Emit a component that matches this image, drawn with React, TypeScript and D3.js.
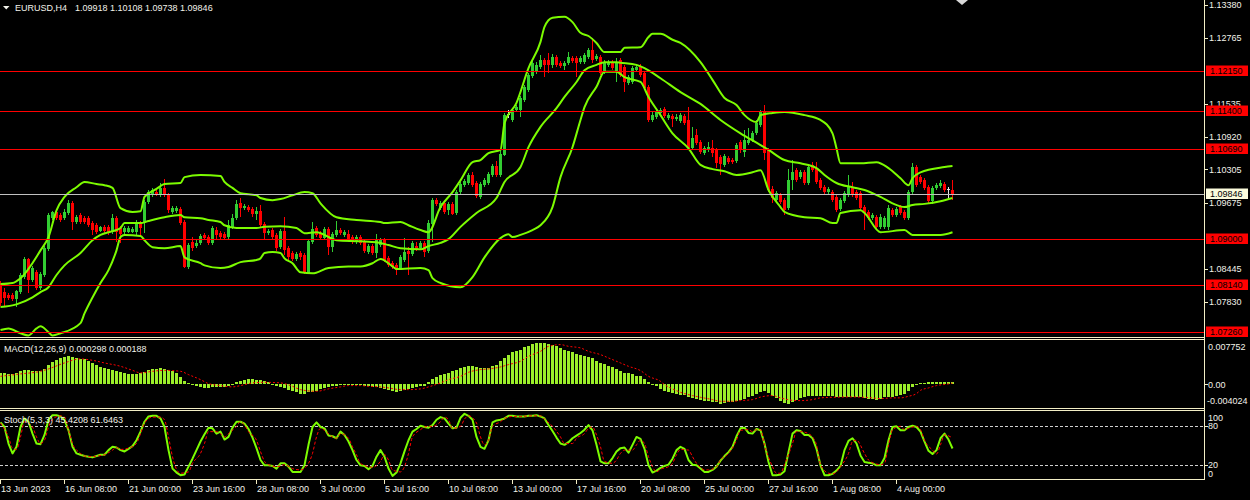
import React from "react";
import * as d3 from "d3";

// ---------- DATA ----------
const symbolTitle = "EURUSD,H4";
const lastQuote = [1.09918, 1.10108, 1.09738, 1.09846];

const opens = [
  1.0818,1.0801,1.0795,1.0795,1.0788,1.0801,1.0829,1.0863,1.0823,1.0838,
  1.0808,1.0833,1.0881,1.0939,1.0951,1.0945,1.0939,1.0949,1.0967,1.0932,
  1.0945,1.0939,1.0939,1.0930,1.0926,1.0915,1.0922,1.0922,1.0913,1.0939,
  1.0921,1.0913,1.0913,1.0913,1.0913,1.0930,1.0930,1.0969,1.0982,1.0988,
  1.0982,1.0996,1.0982,1.0951,1.0952,1.0956,1.0932,1.0848,1.0894,1.0887,
  1.0893,1.0907,1.0904,1.0893,1.0917,1.0911,1.0909,1.0904,1.0922,1.0939,
  1.0967,1.0958,1.0960,1.0956,1.0947,1.0952,1.0928,1.0911,1.0917,1.0907,
  1.0885,1.0915,1.0883,1.0874,1.0863,1.0874,1.0870,1.0836,1.0894,1.0921,
  1.0911,1.0902,1.0919,1.0885,1.0907,1.0917,1.0907,1.0909,1.0904,1.0894,
  1.0904,1.0894,1.0876,1.0887,1.0874,1.0889,1.0898,1.0864,1.0855,1.0851,
  1.0846,1.0861,1.0878,1.0872,1.0887,1.0883,1.0893,1.0878,1.0928,1.0973,
  1.0958,1.0967,1.0954,1.0966,1.0949,1.0988,1.1001,1.1005,1.1020,1.1005,
  1.0979,1.1001,1.1005,1.1020,1.1037,1.1020,1.1057,1.1134,1.1123,1.1141,
  1.1141,1.1160,1.1179,1.1205,1.1213,1.1222,1.1235,1.1235,1.1226,1.1241,
  1.1229,1.1224,1.1229,1.1239,1.1239,1.1231,1.1231,1.1241,1.1254,1.1237,
  1.1241,1.1213,1.1226,1.1231,1.1213,1.1235,1.1222,1.1192,1.1194,1.1216,
  1.1222,1.1211,1.1185,1.1123,1.1128,1.1136,1.1143,1.1127,1.1130,1.1125,
  1.1121,1.1130,1.1123,1.1070,1.1095,1.1082,1.1061,1.1067,1.1070,1.1067,
  1.1054,1.1039,1.1052,1.1048,1.1046,1.1082,1.1063,1.1080,1.1085,1.1098,
  1.1113,1.1140,1.1067,1.0994,1.0973,1.0982,1.0973,1.0958,1.1010,1.1029,
  1.1016,1.1025,1.1005,1.1039,1.1033,1.1010,1.0997,1.0988,1.0988,1.0979,
  1.0956,1.0971,1.0982,1.0997,1.0988,1.0986,1.0960,1.0951,1.0939,1.0941,
  1.0922,1.0922,1.0922,1.0954,1.0945,1.0960,1.0951,1.0939,1.0988,1.1035,
  1.1016,1.1010,1.0997,1.0971,1.0996,1.0999,1.1003,1.0994,1.09918,
];

const highs = [
  1.0821,1.0808,1.0799,1.0799,1.0805,1.0836,1.0866,1.0864,1.0850,1.0842,
  1.0838,1.0887,1.0949,1.0952,1.0954,1.0949,1.0956,1.0973,1.0971,1.0945,
  1.0949,1.0943,1.0943,1.0934,1.0930,1.0924,1.0926,1.0926,1.0947,1.0943,
  1.0924,1.0924,1.0924,1.0922,1.0936,1.0934,1.0973,1.0992,1.0996,1.0992,
  1.1005,1.1012,1.0986,1.0962,1.0962,1.0960,1.0936,1.0893,1.0904,1.0898,
  1.0909,1.0911,1.0907,1.0924,1.0922,1.0915,1.0913,1.0936,1.0947,1.0973,
  1.0977,1.0966,1.0964,1.0960,1.0960,1.0964,1.0932,1.0919,1.0921,1.0911,
  1.0919,1.0941,1.0887,1.0878,1.0876,1.0878,1.0874,1.0900,1.0932,1.0924,
  1.0915,1.0922,1.0922,1.0913,1.0934,1.0921,1.0917,1.0917,1.0907,1.0907,
  1.0907,1.0898,1.0891,1.0891,1.0909,1.0902,1.0902,1.0868,1.0859,1.0855,
  1.0870,1.0902,1.0885,1.0896,1.0894,1.0896,1.0896,1.0936,1.0977,1.0977,
  1.0971,1.0971,1.0969,1.0969,1.0992,1.1007,1.1012,1.1024,1.1025,1.1009,
  1.1007,1.1014,1.1025,1.1040,1.1046,1.1065,1.1136,1.1141,1.1145,1.1151,
  1.1168,1.1188,1.1211,1.1233,1.1231,1.1244,1.1239,1.1248,1.1246,1.1244,
  1.1233,1.1233,1.1250,1.1243,1.1243,1.1243,1.1248,1.1258,1.1276,1.1246,
  1.1244,1.1235,1.1235,1.1235,1.1239,1.1239,1.1226,1.1207,1.1224,1.1228,
  1.1228,1.1215,1.1188,1.1140,1.1143,1.1145,1.1147,1.1136,1.1134,1.1134,
  1.1136,1.1134,1.1147,1.1110,1.1106,1.1085,1.1074,1.1082,1.1085,1.1070,
  1.1057,1.1059,1.1055,1.1052,1.1080,1.1085,1.1104,1.1108,1.1102,1.1123,
  1.1141,1.1151,1.1070,1.1000,1.0990,1.0986,1.0977,1.1031,1.1048,1.1033,
  1.1029,1.1029,1.1039,1.1044,1.1044,1.1014,1.1001,1.0997,1.0992,1.0982,
  1.0977,1.0990,1.1020,1.1007,1.0992,1.0990,1.0964,1.0954,1.0949,1.0945,
  1.0947,1.0943,1.0964,1.0958,1.0960,1.0964,1.0954,1.0992,1.1042,1.1039,
  1.1020,1.1014,1.1001,1.0999,1.1005,1.1010,1.1007,1.0997,1.10108,
];

const lows = [
  1.0775,1.0773,1.0786,1.0784,1.0773,1.0797,1.0825,1.0799,1.0820,1.0805,
  1.0805,1.0829,1.0877,1.0936,1.0936,1.0932,1.0936,1.0945,1.0917,1.0928,
  1.0928,1.0928,1.0922,1.0907,1.0909,1.0913,1.0911,1.0907,1.0909,1.0894,
  1.0893,1.0909,1.0911,1.0911,1.0907,1.0907,1.0911,1.0966,1.0979,1.0981,
  1.0979,1.0979,1.0949,1.0947,1.0949,1.0926,1.0846,1.0844,1.0878,1.0883,
  1.0889,1.0898,1.0889,1.0889,1.0898,1.0900,1.0898,1.0900,1.0919,1.0936,
  1.0941,1.0954,1.0951,1.0941,1.0936,1.0922,1.0898,1.0907,1.0898,1.0878,
  1.0881,1.0870,1.0861,1.0859,1.0859,1.0861,1.0835,1.0835,1.0891,1.0904,
  1.0898,1.0898,1.0870,1.0876,1.0904,1.0907,1.0904,1.0894,1.0891,1.0891,
  1.0889,1.0874,1.0872,1.0870,1.0864,1.0885,1.0857,1.0848,1.0844,1.0833,
  1.0842,1.0857,1.0833,1.0868,1.0878,1.0879,1.0866,1.0874,1.0894,1.0962,
  1.0954,1.0947,1.0945,1.0945,1.0945,1.0984,1.0997,1.1001,1.0997,1.0977,
  1.0975,1.0997,1.1001,1.1016,1.1016,1.1016,1.1055,1.1127,1.1119,1.1138,
  1.1128,1.1156,1.1175,1.1201,1.1209,1.1218,1.1203,1.1211,1.1220,1.1222,
  1.1220,1.1216,1.1226,1.1229,1.1203,1.1228,1.1228,1.1237,1.1229,1.1233,
  1.1207,1.1209,1.1222,1.1216,1.1194,1.1203,1.1175,1.1188,1.1190,1.1213,
  1.1203,1.1179,1.1119,1.1119,1.1125,1.1132,1.1127,1.1123,1.1110,1.1121,
  1.1117,1.1113,1.1067,1.1067,1.1076,1.1059,1.1057,1.1063,1.1054,1.1033,
  1.1020,1.1035,1.1040,1.1040,1.1042,1.1061,1.1054,1.1076,1.1082,1.1094,
  1.1110,1.1048,1.0988,1.0967,1.0969,1.0966,1.0945,1.0954,1.0992,1.1007,
  1.1012,1.1001,1.1001,1.1025,1.1003,1.0992,1.0984,1.0984,1.0969,1.0951,
  1.0952,1.0967,1.0979,1.0979,1.0973,1.0954,1.0917,1.0936,1.0936,1.0919,
  1.0919,1.0919,1.0917,1.0941,1.0941,1.0945,1.0936,1.0936,1.0984,1.0997,
  1.1003,1.0992,1.0967,1.0966,1.0992,1.0996,1.0988,1.0975,1.09738,
];

const closes = [
  1.0780,1.0790,1.0790,1.0788,1.0803,1.0833,1.0863,1.0823,1.0846,1.0808,
  1.0835,1.0883,1.0945,1.0951,1.0939,1.0936,1.0951,1.0967,1.0932,1.0941,
  1.0932,1.0932,1.0926,1.0917,1.0913,1.0922,1.0915,1.0911,1.0939,1.0913,
  1.0909,1.0921,1.0921,1.0919,1.0932,1.0921,1.0969,1.0988,1.0992,1.0984,
  1.0996,1.0982,1.0954,1.0958,1.0958,1.0930,1.0848,1.0889,1.0883,1.0893,
  1.0906,1.0902,1.0893,1.0921,1.0907,1.0904,1.0902,1.0926,1.0939,1.0966,
  1.0958,1.0962,1.0954,1.0947,1.0952,1.0926,1.0911,1.0915,1.0904,1.0883,
  1.0915,1.0879,1.0866,1.0863,1.0872,1.0866,1.0836,1.0896,1.0919,1.0907,
  1.0902,1.0919,1.0885,1.0909,1.0917,1.0911,1.0913,1.0900,1.0894,1.0904,
  1.0893,1.0878,1.0887,1.0874,1.0898,1.0898,1.0859,1.0851,1.0848,1.0842,
  1.0866,1.0876,1.0872,1.0893,1.0881,1.0893,1.0876,1.0930,1.0973,1.0966,
  1.0967,1.0951,1.0966,1.0947,1.0988,1.1003,1.1009,1.1020,1.1001,1.0981,
  1.1003,1.1010,1.1022,1.1037,1.1020,1.1059,1.1132,1.1134,1.1141,1.1147,
  1.1164,1.1185,1.1207,1.1229,1.1226,1.1235,1.1226,1.1226,1.1241,1.1226,
  1.1224,1.1229,1.1241,1.1233,1.1229,1.1239,1.1244,1.1254,1.1235,1.1243,
  1.1211,1.1231,1.1231,1.1220,1.1231,1.1207,1.1194,1.1203,1.1220,1.1222,
  1.1207,1.1183,1.1123,1.1132,1.1138,1.1141,1.1130,1.1132,1.1125,1.1128,
  1.1132,1.1117,1.1070,1.1089,1.1080,1.1063,1.1070,1.1072,1.1061,1.1042,
  1.1040,1.1055,1.1044,1.1044,1.1076,1.1067,1.1085,1.1085,1.1098,1.1117,
  1.1138,1.1061,1.0992,1.0977,1.0986,1.0969,1.0954,1.1010,1.1025,1.1010,
  1.1025,1.1005,1.1035,1.1029,1.1007,1.0996,1.0988,1.0994,1.0973,1.0954,
  1.0973,1.0986,1.0997,1.0982,1.0977,1.0958,1.0949,1.0939,1.0945,1.0922,
  1.0941,1.0939,1.0958,1.0945,1.0956,1.0949,1.0939,1.0988,1.1035,1.1001,
  1.1007,1.0996,1.0971,1.0996,1.1001,1.1005,1.0992,1.0994,1.09846,
];

// Bollinger Bands (20,2): [bar index, price]
const bbUpper: [number, number][] = [
  [0,1.0816],[3,1.0818],[5,1.0827],[10,1.0879],[12,1.0904],[14,1.0954],[16,1.0979],[19,1.0997],[21,1.1007],[24,1.1003],
  [26,1.1001],[28,1.0996],[30,1.0958],[33,1.0951],[35,1.0952],[36,1.0979],[39,1.0994],[41,1.1003],[45,1.1005],[46,1.1016],
  [50,1.1020],[55,1.1018],[56,1.1007],[58,1.0996],[60,1.0986],[64,1.0982],[65,1.0977],[68,1.0973],[70,1.0975],[73,1.0982],
  [76,1.0988],[78,1.0986],[80,1.0967],[84,1.0941],[89,1.0936],[95,1.0932],[96,1.0930],[100,1.0932],[102,1.0926],[105,1.0917],
  [107,1.0913],[110,1.0960],[113,1.0988],[115,1.1010],[118,1.1044],[120,1.1048],[122,1.1061],[125,1.1067],[126,1.1117],[129,1.1155],
  [132,1.1220],[135,1.1269],[136,1.1297],[138,1.1314],[141,1.1316],[143,1.1306],[145,1.1286],[147,1.1280],[149,1.1267],[151,1.1250],
  [155,1.1250],[156,1.1258],[160,1.1259],[162,1.1278],[163,1.1284],[165,1.1284],[168,1.1273],[170,1.1267],[175,1.1231],[178,1.1198],
  [181,1.1164],[184,1.1151],[186,1.1132],[189,1.1119],[190,1.1132],[193,1.1136],[196,1.1138],[201,1.1132],[205,1.1123],[208,1.1098],
  [209,1.1070],[210,1.1042],[215,1.1042],[219,1.1044],[222,1.1033],[225,1.1014],[227,1.1001],[228,1.1014],[230,1.1025],[236,1.1035],
  [238,1.1037],
];
const bbMiddle: [number, number][] = [
  [0,1.0773],[4,1.0778],[8,1.0791],[10,1.0801],[12,1.0810],[14,1.0833],[16,1.0851],[20,1.0874],[23,1.0898],[25,1.0908],
  [28,1.0915],[30,1.0921],[31,1.0930],[35,1.0930],[37,1.0934],[41,1.0941],[45,1.0945],[46,1.0941],[50,1.0939],[52,1.0936],
  [55,1.0932],[56,1.0926],[59,1.0921],[64,1.0921],[66,1.0923],[70,1.0924],[74,1.0921],[76,1.0911],[79,1.0913],[84,1.0898],
  [90,1.0896],[94,1.0894],[97,1.0889],[100,1.0883],[105,1.0881],[107,1.0887],[110,1.0893],[112,1.0900],[115,1.0923],[119,1.0949],
  [124,1.0977],[126,1.1007],[130,1.1035],[132,1.1072],[135,1.1110],[139,1.1145],[141,1.1166],[144,1.1194],[146,1.1216],[149,1.1226],
  [151,1.1231],[154,1.1231],[155,1.1230],[159,1.1226],[161,1.1220],[165,1.1201],[170,1.1175],[175,1.1153],[180,1.1123],[185,1.1098],
  [190,1.1076],[192,1.1067],[196,1.1048],[200,1.1042],[204,1.1033],[206,1.1020],[209,1.1005],[213,1.0997],[216,1.0992],[220,1.0979],
  [223,1.0967],[226,1.0960],[228,1.0964],[231,1.0966],[235,1.0971],[238,1.0977],
];
const bbLower: [number, number][] = [
  [0,1.0730],[2,1.0733],[5,1.0724],[7,1.0720],[9,1.0733],[10,1.0737],[12,1.0726],[13,1.0720],[15,1.0724],[20,1.0743],
  [21,1.0761],[23,1.0791],[25,1.0818],[27,1.0842],[29,1.0879],[30,1.0904],[31,1.0908],[35,1.0906],[36,1.0898],[38,1.0885],
  [41,1.0883],[45,1.0887],[46,1.0866],[50,1.0855],[51,1.0851],[55,1.0846],[57,1.0848],[60,1.0857],[64,1.0861],[65,1.0864],
  [66,1.0874],[68,1.0876],[70,1.0874],[71,1.0864],[73,1.0855],[75,1.0838],[78,1.0836],[82,1.0846],[87,1.0849],[90,1.0849],
  [93,1.0855],[95,1.0863],[98,1.0849],[99,1.0844],[105,1.0846],[107,1.0842],[108,1.0827],[110,1.0818],[115,1.0810],[118,1.0829],
  [121,1.0866],[125,1.0902],[127,1.0909],[128,1.0904],[130,1.0908],[133,1.0917],[135,1.0926],[138,1.0960],[140,1.1016],[143,1.1072],
  [145,1.1123],[146,1.1147],[149,1.1185],[151,1.1213],[154,1.1213],[156,1.1203],[160,1.1194],[162,1.1166],[165,1.1132],[168,1.1098],
  [172,1.1070],[175,1.1039],[178,1.1031],[181,1.1027],[184,1.1020],[188,1.1025],[190,1.1029],[192,1.0992],[195,1.0960],[196,1.0951],
  [201,1.0941],[205,1.0939],[208,1.0930],[209,1.0930],[210,1.0949],[215,1.0954],[216,1.0949],[220,1.0913],[226,1.0917],[228,1.0908],
  [235,1.0908],[238,1.0913],
];

// Horizontal levels and bid
const levelPrices = [1.1215, 1.114, 1.1069, 1.09, 1.0814, 1.0726];
const bidPrice = 1.09846;
// visible price-scale ticks (those fully covered by level labels are omitted)
const priceTicks = [1.1338, 1.12765, 1.11535, 1.1092, 1.10305, 1.09675, 1.08445, 1.0783];

// MACD(12,26,9)
const macdTitle = "MACD(12,26,9) 0.000298 0.000188";
const macdRange = [-0.004024, 0.007752];
const macdHist = [
  0.00193,0.00193,0.00184,0.00184,0.00193,0.00228,0.00241,0.00241,0.00237,0.00234,
  0.00234,0.00264,0.00334,0.00381,0.00422,0.00457,0.00480,0.00487,0.00480,0.00462,
  0.00445,0.00434,0.00409,0.00378,0.00343,0.00307,0.00286,0.00272,0.00246,0.00225,
  0.00211,0.00197,0.00181,0.00176,0.00181,0.00197,0.00220,0.00242,0.00258,0.00269,
  0.00276,0.00264,0.00242,0.00225,0.00202,0.00123,0.00053,0.00012,-0.00018,-0.00035,
  -0.00053,-0.00070,-0.00067,-0.00058,-0.00058,-0.00058,-0.00053,-0.00040,-0.00009,0.00030,
  0.00049,0.00067,0.00083,0.00088,0.00079,0.00065,0.00053,0.00039,0.00002,-0.00030,
  -0.00049,-0.00074,-0.00102,-0.00118,-0.00132,-0.00167,-0.00176,-0.00146,-0.00135,-0.00114,
  -0.00088,-0.00076,-0.00058,-0.00040,-0.00030,-0.00018,-0.00014,-0.00014,-0.00014,-0.00018,
  -0.00023,-0.00030,-0.00040,-0.00044,-0.00053,-0.00070,-0.00088,-0.00105,-0.00123,-0.00135,
  -0.00123,-0.00105,-0.00088,-0.00076,-0.00058,-0.00040,-0.00026,0.00035,0.00088,0.00128,
  0.00158,0.00176,0.00193,0.00223,0.00251,0.00276,0.00304,0.00311,0.00311,0.00293,
  0.00286,0.00281,0.00281,0.00311,0.00334,0.00404,0.00452,0.00510,0.00557,0.00585,
  0.00603,0.00645,0.00673,0.00703,0.00720,0.00720,0.00720,0.00703,0.00685,0.00662,
  0.00627,0.00603,0.00580,0.00557,0.00532,0.00510,0.00497,0.00474,0.00457,0.00399,
  0.00369,0.00351,0.00322,0.00293,0.00264,0.00234,0.00193,0.00188,0.00176,0.00149,
  0.00135,0.00084,0.00030,-0.00018,-0.00040,-0.00088,-0.00118,-0.00146,-0.00158,-0.00176,
  -0.00184,-0.00193,-0.00234,-0.00251,-0.00264,-0.00276,-0.00293,-0.00293,-0.00311,-0.00322,
  -0.00351,-0.00334,-0.00322,-0.00311,-0.00293,-0.00276,-0.00264,-0.00234,-0.00206,-0.00176,
  -0.00135,-0.00118,-0.00158,-0.00206,-0.00251,-0.00293,-0.00334,-0.00351,-0.00311,-0.00276,
  -0.00251,-0.00234,-0.00206,-0.00206,-0.00206,-0.00206,-0.00206,-0.00206,-0.00216,-0.00234,
  -0.00234,-0.00234,-0.00234,-0.00234,-0.00234,-0.00234,-0.00251,-0.00264,-0.00264,-0.00276,
  -0.00264,-0.00234,-0.00234,-0.00234,-0.00206,-0.00193,-0.00176,-0.00118,-0.00058,-0.00018,
  0.00012,0.00012,0.00030,0.00030,0.00040,0.00040,0.00040,0.00040,0.000298,
];
const macdSignal: [number, number][] = [
  [0,0.00137],[5,0.00179],[10,0.00225],[12,0.00267],[16,0.00372],[20,0.00443],[23,0.00418],[26,0.00372],[30,0.00313],[33,0.00242],
  [35,0.00197],[38,0.00225],[41,0.00242],[45,0.00225],[47,0.00167],[50,0.00079],[52,0.00009],[55,-0.00026],[58,-0.00049],[60,-0.00026],
  [63,0.00021],[66,0.00032],[70,0.00021],[73,-0.00039],[75,-0.00097],[79,-0.00127],[82,-0.00084],[85,-0.00049],[87,-0.00026],[90,-0.00026],
  [92,-0.00039],[95,-0.00049],[97,-0.00067],[100,-0.00097],[102,-0.00097],[105,-0.00084],[107,-0.00049],[110,0.00021],[112,0.00079],[115,0.00137],
  [117,0.00207],[120,0.00255],[122,0.00267],[125,0.00302],[127,0.00343],[130,0.00401],[132,0.00488],[135,0.00576],[137,0.00664],[140,0.00694],
  [142,0.00664],[145,0.00636],[147,0.00576],[150,0.00518],[152,0.00460],[155,0.00372],[157,0.00313],[160,0.00237],[162,0.00137],[165,0.00049],
  [166,-0.00009],[168,-0.00084],[170,-0.00144],[173,-0.00202],[175,-0.00232],[178,-0.00272],[180,-0.00302],[183,-0.00302],[185,-0.00290],[188,-0.00272],
  [190,-0.00228],[193,-0.00202],[195,-0.00242],[198,-0.00285],[200,-0.00290],[203,-0.00272],[205,-0.00242],[208,-0.00232],[213,-0.00225],[218,-0.00242],
  [220,-0.00255],[223,-0.00242],[225,-0.00242],[227,-0.00214],[229,-0.00167],[230,-0.00109],[232,-0.00067],[234,-0.00026],[237,0.00004],[238,0.000188],
];

// Stochastic(5,3,3)
const stochTitle = "Stoch(5,3,3) 45.4208 61.6463";
const stochMain = [
  85,78,53,38,48,78,91,86,68,53,
  52,66,89,96,96,94,89,73,48,38,
  36,34,33,32,34,36,36,43,48,47,
  43,41,45,49,58,71,86,94,95,95,
  91,78,43,15,9,5,6,18,30,43,
  56,67,77,76,68,71,59,63,77,86,
  86,83,75,62,46,28,20,20,19,15,
  23,23,18,10,10,10,20,51,78,85,
  78,76,65,64,61,71,66,56,43,28,
  20,19,14,19,33,43,33,15,4,9,
  23,41,58,71,75,80,78,77,81,89,
  93,91,83,76,77,92,98,95,89,63,
  48,45,58,85,88,89,91,95,95,94,
  94,94,95,95,96,94,91,81,72,62,
  53,51,55,61,65,69,74,81,73,51,
  26,23,23,31,41,46,47,39,51,63,
  60,45,20,9,12,16,19,21,30,43,
  48,45,28,21,20,15,10,10,13,18,
  27,34,40,48,64,76,77,69,68,75,
  73,53,25,5,5,6,11,40,68,73,
  72,66,66,61,45,20,5,5,7,12,
  19,43,57,61,53,35,25,24,23,20,
  20,31,58,78,79,73,73,78,80,78,
  71,56,42,37,43,61,68,59,45.4208,
];
const stochSignal: [number, number][] = [
  [0,84],[2,63],[3,46],[4,44],[5,63],[6,86],[8,78],[9,63],[10,53],[11,58],[12,78],[13,90],[15,95],[16,93],[17,74],[18,53],
  [20,38],[21,34],[23,33],[24,34],[26,36],[28,43],[29,47],[30,44],[32,46],[34,53],[35,68],[36,84],[38,93],[40,93],[41,89],
  [42,63],[43,33],[44,14],[45,8],[47,10],[48,23],[50,38],[51,53],[52,71],[54,71],[55,68],[56,63],[57,68],[59,79],[60,86],
  [61,81],[62,71],[64,58],[65,41],[66,26],[67,21],[69,18],[70,19],[71,21],[73,15],[75,13],[77,23],[78,38],[79,63],
  [80,76],[81,73],[83,63],[84,61],[85,68],[87,61],[88,48],[89,36],[90,23],[92,18],[93,17],[95,26],[96,36],[97,28],[98,13],
  [100,10],[101,18],[102,38],[103,63],[105,74],[106,78],[107,79],[108,79],[110,86],[111,93],[112,89],[113,76],[115,79],[116,90],
  [117,95],[119,84],[120,63],[121,51],[122,58],[123,79],[125,86],[126,91],[128,94],[130,94],[133,95],[135,95],[136,90],[138,79],
  [140,63],[141,53],[143,53],[144,61],[146,68],[147,76],[148,78],[149,66],[150,48],[151,26],[153,23],[154,28],[155,38],[156,43],
  [158,43],[159,51],[160,58],[161,53],[162,33],[163,18],[164,10],[165,14],[167,18],[168,23],[169,36],[170,44],[172,43],[173,33],
  [174,23],[175,17],[176,13],[177,13],[179,18],[180,28],[182,38],[184,58],[185,73],[187,74],[188,71],[189,74],[190,74],[191,51],
  [193,18],[194,8],[195,8],[196,21],[198,53],[199,71],[200,71],[202,68],[203,63],[204,51],[205,21],[207,8],[208,7],[209,10],
  [210,18],[212,38],[213,56],[214,58],[216,38],[217,28],[218,24],[220,21],[221,23],[222,51],[223,74],[225,79],[226,74],[227,76],
  [229,79],[230,74],[231,58],[233,43],[234,37],[235,51],[236,66],[238,61.6463],
];
const stochLevels = [80, 20];

// Time axis
const timeLabels = [
  "13 Jun 2023", "16 Jun 08:00", "21 Jun 00:00", "23 Jun 16:00", "28 Jun 08:00",
  "3 Jul 00:00", "5 Jul 16:00", "10 Jul 08:00", "13 Jul 00:00", "17 Jul 16:00",
  "20 Jul 08:00", "25 Jul 00:00", "27 Jul 16:00", "1 Aug 08:00", "4 Aug 00:00",
];
const timeLabelBars = [0, 16, 32, 48, 64, 80, 96, 112, 128, 144, 160, 176, 192, 208, 224];

// ---------- STYLE ----------
const FONT = "'Liberation Sans', Arial, sans-serif";
const FS = 9;
const TXT = "#f2f2ea";
const FRAME = "#f3eec6";
const BULL = "#32CD32";
const BEAR = "#FF0000";
const DOJI = "#e6e6e6";
const BAND = "#7CFC00";
const HIST = "#9cee2a";

export default function App() {
  const AX = 1204.5;
  const x = d3.scaleLinear().domain([0, 238]).range([0.5, 952.5]);
  const yP = d3.scaleLinear().domain([1.071697, 1.134735]).range([337, 0]);
  const yM = d3.scaleLinear().domain(macdRange).range([407, 340]);
  const yS = d3.scaleLinear().domain([0, 100]).range([478.5, 412.5]);

  const bandLine = d3
    .line<[number, number]>()
    .x((d) => x(d[0]))
    .y((d) => yP(d[1]))
    .curve(d3.curveMonotoneX);
  const macdSigLine = d3
    .line<[number, number]>()
    .x((d) => x(d[0]))
    .y((d) => yM(d[1]))
    .curve(d3.curveMonotoneX);
  const stochMainLine = d3
    .line<number>()
    .x((_, i) => x(i))
    .y((d) => yS(d));
  const stochSigLine = d3
    .line<[number, number]>()
    .x((d) => x(d[0]))
    .y((d) => yS(d[1]))
    .curve(d3.curveMonotoneX);

  const zero = Math.round(yM(0));

  return (
    <svg
      width={1250}
      height={500}
      style={{ position: "absolute", left: 0, top: 0, background: "#000", display: "block" }}
      fontFamily={FONT}
      fontSize={FS}
    >
      <defs>
        <clipPath id="mainClip">
          <rect x={0} y={0} width={1204} height={337} />
        </clipPath>
        <clipPath id="macdClip">
          <rect x={0} y={340} width={1204} height={68} />
        </clipPath>
        <clipPath id="stoClip">
          <rect x={0} y={411} width={1204} height={68} />
        </clipPath>
      </defs>
      <rect x={0} y={0} width={1250} height={500} fill="#000" />

      {/* ---------- main panel ---------- */}
      <g clipPath="url(#mainClip)" shapeRendering="crispEdges">
        {opens.map((o, i) => {
          const c = closes[i];
          const hi = Math.max(highs[i], o, c);
          const lo = Math.min(lows[i], o, c);
          const doji = o === c;
          const col = doji ? DOJI : c > o ? BULL : BEAR;
          const top = Math.round(yP(Math.max(o, c)));
          const bot = Math.round(yP(Math.min(o, c)));
          const wt = Math.round(yP(hi));
          const wb = Math.round(yP(lo));
          const cx = x(i);
          return (
            <g key={i}>
              <rect x={cx - 0.5} y={wt} width={1} height={Math.max(1, wb - wt)} fill={col} />
              <rect x={cx - 1.5} y={top} width={3} height={Math.max(1, bot - top)} fill={col} />
            </g>
          );
        })}
      </g>
      <g clipPath="url(#mainClip)" fill="none" stroke={BAND} strokeWidth={2} strokeLinejoin="round">
        <path d={bandLine(bbUpper) || ""} />
        <path d={bandLine(bbMiddle) || ""} />
        <path d={bandLine(bbLower) || ""} />
      </g>
      <g shapeRendering="crispEdges">
        {levelPrices.map((p) => (
          <rect key={p} x={0} y={Math.round(yP(p))} width={1204} height={1} fill="#ff0000" />
        ))}
        <rect x={0} y={Math.round(yP(bidPrice))} width={1204} height={1} fill="#c0c0c0" />
      </g>

      {/* header */}
      <polygon points="3,6 9.5,6 6.25,9.5" fill={TXT} />
      <text x={15} y={11} fill={TXT}>{symbolTitle}</text>
      <text x={75} y={11} fill={TXT}>{lastQuote.map((v) => v.toFixed(5)).join(" ")}</text>
      <polygon points="956,0 968,0 962,5" fill="#d8d8d8" />

      {/* ---------- MACD panel ---------- */}
      <g clipPath="url(#macdClip)" shapeRendering="crispEdges">
        {macdHist.map((v, i) => {
          const yv = Math.round(yM(v));
          const top = Math.min(yv, zero);
          const h = Math.max(1, Math.abs(yv - zero));
          return <rect key={i} x={x(i) - 1.5} y={top} width={3} height={h} fill={HIST} />;
        })}
      </g>
      <path
        d={macdSigLine(macdSignal) || ""}
        fill="none"
        stroke="#ff0000"
        strokeWidth={1}
        strokeDasharray="2 2"
        clipPath="url(#macdClip)"
      />
      <text x={4} y={352} fill={TXT}>{macdTitle}</text>

      {/* ---------- Stochastic panel ---------- */}
      <g shapeRendering="crispEdges">
        {stochLevels.map((lv) => (
          <line
            key={lv}
            x1={0}
            x2={1204}
            y1={Math.round(yS(lv)) + 0.5}
            y2={Math.round(yS(lv)) + 0.5}
            stroke="#cfcfcf"
            strokeWidth={1}
            strokeDasharray="3 2"
          />
        ))}
      </g>
      <g clipPath="url(#stoClip)" fill="none">
        <path d={stochMainLine(stochMain) || ""} stroke={BAND} strokeWidth={2} strokeLinejoin="round" />
        <path d={stochSigLine(stochSignal) || ""} stroke="#ff0000" strokeWidth={1} strokeDasharray="3 2" />
      </g>
      <text x={4} y={423} fill={TXT}>{stochTitle}</text>

      {/* ---------- frames ---------- */}
      <g stroke={FRAME} strokeWidth={1} shapeRendering="crispEdges">
        <line x1={0} x2={AX} y1={337.5} y2={337.5} />
        <line x1={0} x2={AX} y1={339.5} y2={339.5} />
        <line x1={0} x2={AX} y1={408.5} y2={408.5} />
        <line x1={0} x2={AX} y1={410.5} y2={410.5} />
        <line x1={0} x2={AX} y1={479.5} y2={479.5} />
        <line x1={AX} x2={AX} y1={0} y2={479.5} />
      </g>

      {/* ---------- price axis ---------- */}
      <g shapeRendering="crispEdges" stroke={FRAME}>
        {priceTicks.map((p) => (
          <line key={p} x1={AX} x2={AX + 3} y1={Math.round(yP(p)) + 0.5} y2={Math.round(yP(p)) + 0.5} />
        ))}
      </g>
      {priceTicks.map((p) => (
        <text key={p} x={1209} y={yP(p) + 3.3} fill={TXT}>{p.toFixed(5)}</text>
      ))}
      {levelPrices.map((p) => (
        <g key={p}>
          <rect x={1206} y={Math.round(yP(p)) - 5.5} width={42} height={10.5} fill="#ff0000" />
          <text x={1210} y={yP(p) + 3.3} fill="#000">{p.toFixed(5)}</text>
        </g>
      ))}
      <rect x={1206} y={Math.round(yP(bidPrice)) - 5.5} width={42} height={10.5} fill="#fbfbdc" />
      <text x={1210} y={yP(bidPrice) + 3.3} fill="#000">{bidPrice.toFixed(5)}</text>

      {/* MACD axis */}
      <line x1={AX} x2={AX + 3} y1={zero + 0.5} y2={zero + 0.5} stroke={FRAME} shapeRendering="crispEdges" />
      <text x={1208} y={yM(macdRange[1]) + 10} fill={TXT}>{macdRange[1].toFixed(6)}</text>
      <text x={1208} y={yM(0) + 4} fill={TXT}>0.00</text>
      <text x={1207} y={yM(macdRange[0]) - 3} fill={TXT}>{macdRange[0].toFixed(6)}</text>

      {/* Stoch axis */}
      {stochLevels.map((lv) => (
        <line key={lv} x1={AX} x2={AX + 3} y1={Math.round(yS(lv)) + 0.5} y2={Math.round(yS(lv)) + 0.5} stroke={FRAME} shapeRendering="crispEdges" />
      ))}
      <text x={1208} y={yS(100) + 8} fill={TXT}>100</text>
      <text x={1208} y={yS(80) + 3.3} fill={TXT}>80</text>
      <text x={1208} y={yS(20) + 3} fill={TXT}>20</text>
      <text x={1208} y={yS(0) - 1.5} fill={TXT}>0</text>

      {/* ---------- time axis ---------- */}
      <g stroke={FRAME} shapeRendering="crispEdges">
        {timeLabelBars.map((b) => (
          <line key={b} x1={x(b)} x2={x(b)} y1={480} y2={484} />
        ))}
      </g>
      {timeLabels.map((t, k) => (
        <text key={t} x={x(timeLabelBars[k]) + 0.5} y={492} fill={TXT}>{t}</text>
      ))}
    </svg>
  );
}
